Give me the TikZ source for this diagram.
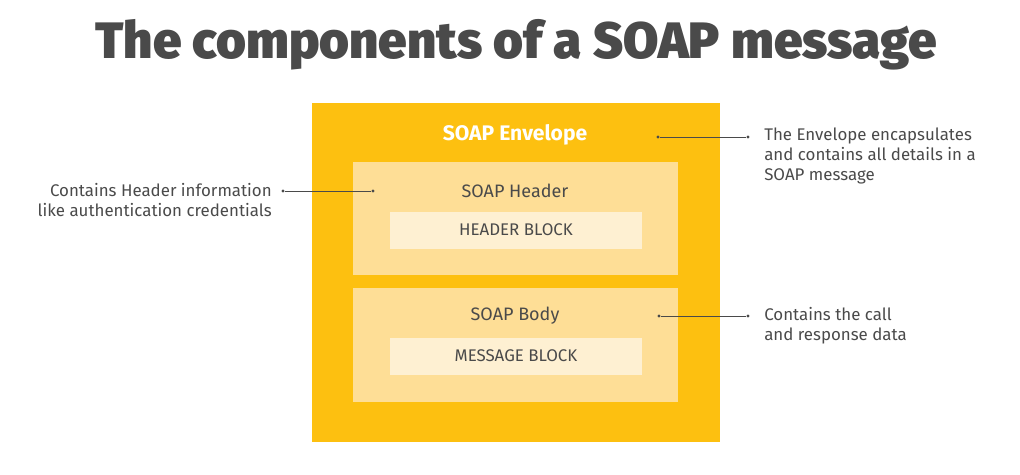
\documentclass[tikz,border=0pt]{standalone}
\usepackage{fontspec}
\setmainfont{Fira Sans}
\newfontfamily\titlefont{Fira Sans Black}
\usetikzlibrary{positioning}
\definecolor{envyellow}{HTML}{FDC010}
\definecolor{partyellow}{HTML}{FEDE96}
\definecolor{blockyellow}{HTML}{FEF0D2}
\definecolor{inkgray}{HTML}{4A4A4A}
\tikzset{
	envbox/.style = {
		fill=envyellow,
		rectangle,
		anchor=north west,
		inner sep=0pt
	},
	partbox/.style = {
		fill=partyellow,
		rectangle,
		anchor=north west,
		inner sep=0pt
	},
	blockbox/.style = {
		fill=blockyellow,
		rectangle,
		minimum width=252\unitpx,
		minimum height=37\unitpx,
		inner sep=0pt,
		font=\fontsize{12}{14}\selectfont,
		text=inkgray
	},
	note/.style = {
		font=\fontsize{12}{14.5}\selectfont,
		text=inkgray,
		inner sep=0pt
	},
	leader/.style = {
		draw=inkgray,
		line width=0.5pt
	},
	tip/.style = {
		fill=inkgray,
		circle,
		inner sep=0pt,
		minimum size=2.2pt
	}
}
\newlength{\unitpx}
\setlength{\unitpx}{0.025cm}
\begin{document}
\begin{tikzpicture}[x=0.025cm,y=-0.025cm]
	
	% marco de la figura
	\useasboundingbox (0,0) rectangle (1020,474);
	
	% --- Titulo ---
	\node[font=\titlefont\fontsize{36.4}{40}\selectfont, text=inkgray, anchor=base] (title) at (516,58) {The components of a SOAP message};
	
	% --- Cajas ---
	\node[envbox, minimum width=408\unitpx, minimum height=339\unitpx] (envelope) at (312,103) {};
	\node[font=\bfseries\fontsize{15}{18}\selectfont, text=white] (envlabel) at (515,135) {SOAP Envelope};
	
	\node[partbox, minimum width=325\unitpx, minimum height=113\unitpx] (header) at (353,162) {};
	\node[font=\fontsize{12.8}{15}\selectfont, text=inkgray] (hdrlabel) at (515,191) {SOAP Header};
	\node[blockbox] (hdrblock) at (516,230) {HEADER BLOCK};
	
	\node[partbox, minimum width=325\unitpx, minimum height=114\unitpx] (body) at (353,288) {};
	\node[font=\fontsize{12.8}{15}\selectfont, text=inkgray] (bodylabel) at (515,316) {SOAP Body};
	\node[blockbox] (msgblock) at (516,356) {MESSAGE BLOCK};
	
	% --- Notas ---
	\node[note, anchor=west, align=left] (envnote) at (764,156) {The Envelope encapsulates\\and contains all details in a\\SOAP message};
	\node[note, anchor=east, align=right] (hdrnote) at (272,200) {Contains Header information\\like authentication credentials};
	\node[note, anchor=west, align=left] (bodynote) at (764,326) {Contains the call\\and response data};
	
	% --- Puntos de las lineas ---
	\node[tip] (envdot) at (658,137) {};
	\node[tip] (envend) at (748,137) {};
	\node[tip] (hdrdot) at (373,191) {};
	\node[tip] (hdrend) at (283,191) {};
	\node[tip] (bodydot) at (659,316) {};
	\node[tip] (bodyend) at (748,316) {};
	
	% --- Lineas ---
	\draw[leader] (envdot) -- (envend);
	\draw[leader] (hdrend) -- (hdrdot);
	\draw[leader] (bodydot) -- (bodyend);
	
\end{tikzpicture}
\end{document}
